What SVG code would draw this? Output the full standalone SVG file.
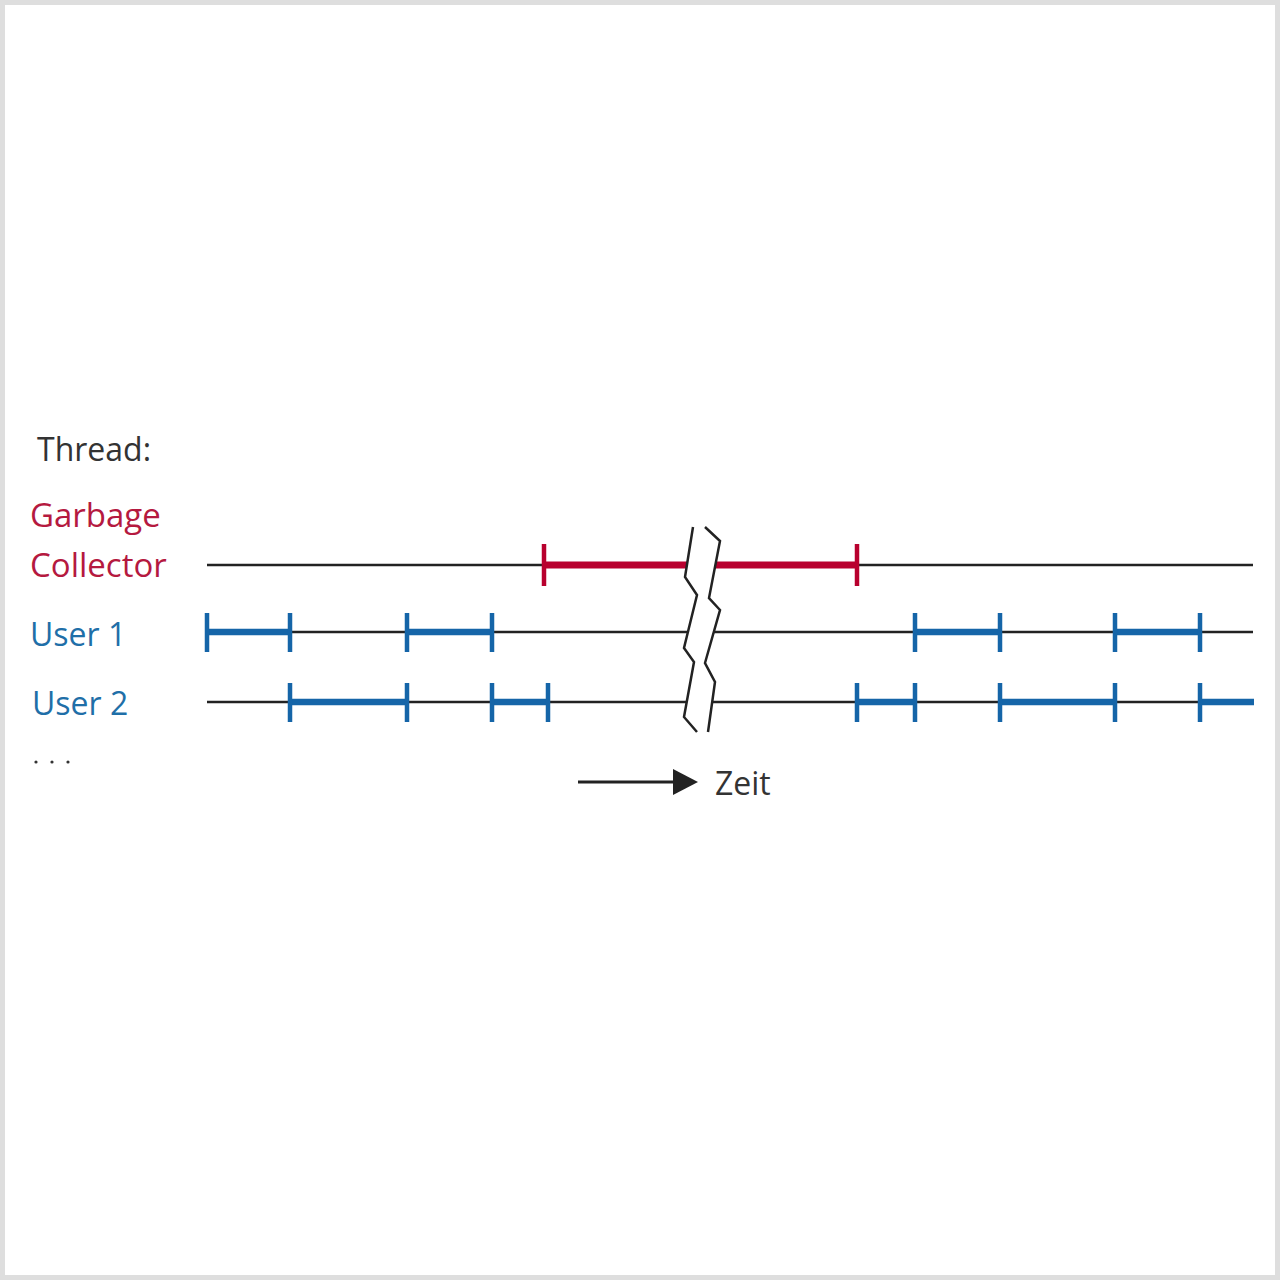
<svg xmlns="http://www.w3.org/2000/svg" width="1280" height="1280" viewBox="0 0 1280 1280">
<style>
.lbl{font-family:"Open Sans","Liberation Sans",sans-serif;font-size:32px}
.dark{fill:#333}
.red{fill:#b5193f;font-size:33px}
.blue{fill:#1f6fa8}
.axis{stroke:#222;stroke-width:2.5;fill:none}
.gc{stroke:#b8002e;stroke-width:7;fill:none}
.gct{stroke:#b8002e;stroke-width:4.5;fill:none}
.us{stroke:#1565a8;stroke-width:6.5;fill:none}
.ust{stroke:#1565a8;stroke-width:4.5;fill:none}
.brk{stroke:#222;stroke-width:2.5;fill:none;stroke-linejoin:miter}
</style>
<rect x="0" y="0" width="1280" height="1280" fill="#fff"/>
<rect x="2.5" y="2.5" width="1275" height="1275" fill="none" stroke="#dedede" stroke-width="5"/>

<g id="labels">
<text class="lbl dark" x="37" y="461">Thread:</text>
<text class="lbl red" x="30" y="527">Garbage</text>
<text class="lbl red" x="30" y="577">Collector</text>
<text class="lbl blue" x="30" y="646">User 1</text>
<text class="lbl blue" x="32" y="715">User 2</text>
<circle cx="36" cy="762" r="1.6" fill="#333"/>
<circle cx="52" cy="762" r="1.6" fill="#333"/>
<circle cx="68" cy="762" r="1.6" fill="#333"/>
</g>

<g id="thread-gc">
<line class="axis" x1="207" y1="565" x2="1253" y2="565"/>
<line class="gc" x1="544" y1="565" x2="857" y2="565"/>
<line class="gct" x1="544" y1="544" x2="544" y2="586"/>
<line class="gct" x1="857" y1="544" x2="857" y2="586"/>
</g>

<g id="thread-user1">
<line class="axis" x1="207" y1="632" x2="1253" y2="632"/>
<line class="us" x1="207" y1="632" x2="290" y2="632"/>
<line class="us" x1="407" y1="632" x2="492" y2="632"/>
<line class="us" x1="915" y1="632" x2="1000" y2="632"/>
<line class="us" x1="1115" y1="632" x2="1200" y2="632"/>
<path class="ust" d="M207,613V652M290,613V652M407,613V652M492,613V652M915,613V652M1000,613V652M1115,613V652M1200,613V652"/>
</g>

<g id="thread-user2">
<line class="axis" x1="207" y1="702" x2="1253" y2="702"/>
<line class="us" x1="290" y1="702" x2="407" y2="702"/>
<line class="us" x1="492" y1="702" x2="548" y2="702"/>
<line class="us" x1="857" y1="702" x2="915" y2="702"/>
<line class="us" x1="1000" y1="702" x2="1115" y2="702"/>
<line class="us" x1="1200" y1="702" x2="1254" y2="702"/>
<path class="ust" d="M290,683V722M407,683V722M492,683V722M548,683V722M857,683V722M915,683V722M1000,683V722M1115,683V722M1200,683V722"/>
</g>

<g id="break">
<polygon fill="#fff" points="693,527 685,577 697,595 684,648 694,662 684,717 697,732 708,732 715,682 705,663 720,610 709,598 720,541 705,527"/>
<polyline class="brk" points="693,527 685,577 697,595 684,648 694,662 684,717 697,732"/>
<polyline class="brk" points="705,527 720,541 709,598 720,610 705,663 715,682 708,732"/>
</g>

<g id="connectors">
<line x1="578" y1="782" x2="676" y2="782" stroke="#222" stroke-width="3"/>
<polygon points="673,769 698,782 673,795" fill="#222"/>
</g>
<text class="lbl dark" x="715" y="795">Zeit</text>
</svg>
